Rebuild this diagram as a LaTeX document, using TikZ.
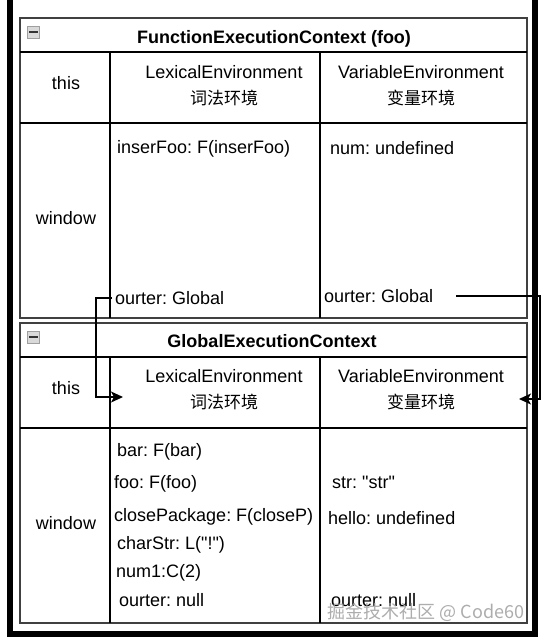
\documentclass[tikz,border=0pt]{standalone}
\usepackage{fontspec}
\setmainfont{Liberation Sans}[Ligatures=TeXOff]
\newfontfamily\cjk{Noto Sans CJK SC}[Ligatures=TeXOff]
\usetikzlibrary{arrows.meta}
\frenchspacing
\newcommand{\dq}{\symbol{34}}
\begin{document}
\begin{tikzpicture}[x=1pt,y=-1pt,
  every node/.style={inner sep=0pt, font=\fontsize{18}{21}\selectfont},
  boxline/.style={draw=black!75, line width=1.8pt},
  cell/.style={draw=black, line width=1.2pt},
  lab/.style={anchor=west, text height=12.5pt, text depth=0.5pt},
  cen/.style={anchor=center, text height=12.5pt, text depth=0.5pt},
  ttl/.style={cen, font=\fontsize{18}{21}\selectfont\bfseries},
  env/.style={align=center, font=\fontsize{18}{26}\selectfont},
  frame/.style={line width=6pt, black, line join=miter},
  conn/.style={draw=black, line width=1.3pt, -{Stealth[length=12pt,width=11pt,inset=3pt]}},
  icon/.style={draw=gray!75, fill=gray!30, minimum size=12pt, line width=0.8pt},
  iconbar/.style={draw=black!80, line width=2pt},
  wm/.style={font=\cjk\fontsize{18}{21}\selectfont, text=gray!75, opacity=0.85}
]
\useasboundingbox[fill=white] (0,0) rectangle (549,641);
\draw[frame] (10,0) -- (10,634) -- (535,634) -- (535,0);

% ---------- FunctionExecutionContext ----------
\draw[boxline] (20,18) rectangle (527,318);
\draw[cell] (20,52) -- (527,52);
\draw[cell] (20,123) -- (527,123);
\draw[cell] (110,52) -- (110,318);
\draw[cell] (320,52) -- (320,318);
\node[icon] (fIcon) at (33.5,32) {};
\draw[iconbar] ([xshift=2pt]fIcon.west) -- ([xshift=-2pt]fIcon.east);
\node[ttl] (fTitle) at (274,37) {FunctionExecutionContext (foo)};
\node[cen] (fThis) at (66,83) {this};
\node[env] (fLex) at (224,86) {LexicalEnvironment\\{\cjk\fontsize{17}{26}\selectfont 词法环境}};
\node[env] (fVar) at (421,86) {VariableEnvironment\\{\cjk\fontsize{17}{26}\selectfont 变量环境}};
\node[cen] (fWin) at (66,218) {window};
\node[lab] (fIns) at (117,147) {inserFoo: F(inserFoo)};
\node[lab] (fNum) at (330,148) {num: undefined};
\node[lab] (fOuterL) at (115,298) {ourter: Global};
\node[lab] (fOuterV) at (324,296) {ourter: Global};

% ---------- GlobalExecutionContext ----------
\draw[boxline] (20,323) rectangle (527,623);
\draw[cell] (20,357) -- (527,357);
\draw[cell] (20,428) -- (527,428);
\draw[cell] (110,357) -- (110,623);
\draw[cell] (320,357) -- (320,623);
\node[icon] (gIcon) at (33.5,337) {};
\draw[iconbar] ([xshift=2pt]gIcon.west) -- ([xshift=-2pt]gIcon.east);
\node[ttl] (gTitle) at (272,341) {GlobalExecutionContext};
\node[cen] (gThis) at (66,388) {this};
\node[env] (gLex) at (224,390) {LexicalEnvironment\\{\cjk\fontsize{17}{26}\selectfont 词法环境}};
\node[env] (gVar) at (421,390) {VariableEnvironment\\{\cjk\fontsize{17}{26}\selectfont 变量环境}};
\node[cen] (gWin) at (66,523) {window};
\node[lab] (gBar) at (117,450) {bar: F(bar)};
\node[lab] (gFoo) at (114,482) {foo: F(foo)};
\node[lab] (gClose) at (114,515) {closePackage: F(closeP)};
\node[lab] (gChar) at (117,543) {charStr: L(\dq!\dq)};
\node[lab] (gNum1) at (116,571) {num1:C(2)};
\node[lab] (gOuterL) at (119,600) {ourter: null};
\node[lab] (gStr) at (332,482) {str: \dq str\dq};
\node[lab] (gHello) at (328,518) {hello: undefined};
\node[lab] (gOuterV) at (331,600) {ourter: null};

% ---------- connectors ----------
\coordinate (gLexIn) at (123,397);
\coordinate (gVarIn) at (519,399);
\coordinate (rTurn) at (540,296);
\draw[conn] ([xshift=-3pt]fOuterL.west) -- ++(-16,0) |- (gLexIn);
\draw[conn] ([xshift=23pt]fOuterV.east) -- (rTurn) |- (gVarIn);

% ---------- watermark ----------
\node[wm] (wmark) at (426,612) {掘金技术社区 @ Code60};
\end{tikzpicture}
\end{document}
